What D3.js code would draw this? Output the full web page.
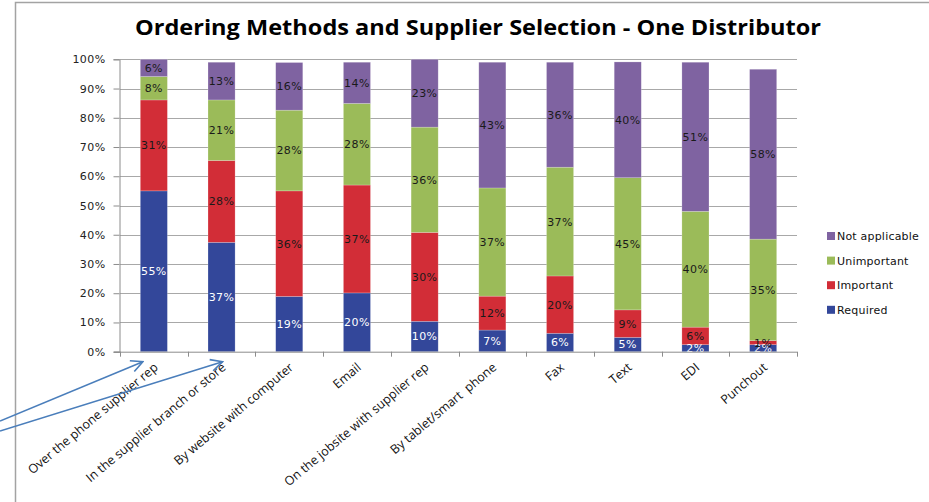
<!DOCTYPE html>
<html>
<head>
<meta charset="utf-8">
<script src="https://cdn.jsdelivr.net/npm/d3@7"></script>
<style>
  html, body { margin: 0; padding: 0; background: #fff; }
  svg { display: block; }
</style>
</head>
<body>
<svg id="chart" width="929" height="502"></svg>
<script>
const title = "Ordering Methods and Supplier Selection - One Distributor";
const categories = [
  "Over the phone supplier rep",
  "In the supplier branch or store",
  "By website with computer",
  "Email",
  "On the jobsite with supplier rep",
  "By tablet/smart  phone",
  "Fax",
  "Text",
  "EDI",
  "Punchout"
];
const required      = [55.0, 37.4, 18.9, 20.1, 10.4,  7.4,  6.3,  4.9,  2.4,  2.4];
const important     = [31.1, 28.0, 36.1, 36.9, 30.4, 11.6, 19.6,  9.4,  6.0,  1.4];
const unimportant   = [ 8.0, 20.7, 27.6, 27.9, 36.0, 37.0, 37.2, 45.2, 39.6, 34.7];
const notApplicable = [ 5.9, 12.9, 16.3, 14.1, 23.2, 43.0, 35.9, 39.6, 51.0, 58.1];
const seriesNames = ["Required", "Important", "Unimportant", "Not applicable"];
const yTicks = [0, 10, 20, 30, 40, 50, 60, 70, 80, 90, 100];
const arrowTargets = [0, 1]; // categories the annotation arrows point at

const colors = {
  "Required": "#33479a",
  "Important": "#d22d37",
  "Unimportant": "#9bbb59",
  "Not applicable": "#7f63a1"
};

const svg = d3.select("#chart");
const W = 929, H = 502;
const plot = { left: 120, right: 797, top: 59.3, bottom: 351.7 };

// frame
svg.append("path")
  .attr("d", `M15.5,${H} L15.5,2.5 L${W},2.5`)
  .attr("fill", "none").attr("stroke", "#a3a3a3").attr("stroke-width", 1.5);

// title
svg.append("text")
  .attr("x", 478).attr("y", 35)
  .attr("text-anchor", "middle")
  .attr("font-family", "'Open Sans', 'DejaVu Sans', sans-serif")
  .attr("font-weight", "bold")
  .attr("font-size", 21)
  .attr("textLength", 686).attr("lengthAdjust", "spacingAndGlyphs")
  .attr("fill", "#000")
  .text(title);

const x = d3.scaleBand().domain(categories)
  .range([plot.left, plot.right]).paddingInner(0.6).paddingOuter(0.3);
const y = d3.scaleLinear().domain([0, 100]).range([plot.bottom, plot.top]);

// gridlines
svg.append("g").selectAll("line").data(yTicks.filter(t => t > 0)).join("line")
  .attr("x1", plot.left).attr("x2", plot.right)
  .attr("y1", d => Math.round(y(d)) + 0.5).attr("y2", d => Math.round(y(d)) + 0.5)
  .attr("stroke", "#a8a8a8").attr("stroke-width", 1);

// y axis
const yAxis = d3.axisLeft(y).tickValues(yTicks).tickFormat(d => d + "%").tickSize(6).tickPadding(8);
const gy = svg.append("g").attr("transform", `translate(${plot.left - 0.5},0)`).call(yAxis);
gy.select(".domain").attr("stroke", "#8c8c8c");
gy.selectAll(".tick line").attr("stroke", "#8c8c8c");
gy.selectAll(".tick text")
  .attr("font-family", "'DejaVu Sans', Verdana, sans-serif")
  .attr("font-size", 11).attr("letter-spacing", 0.4).attr("fill", "#222");

// stacked data
const rows = categories.map((c, i) => ({
  category: c,
  "Required": required[i],
  "Important": important[i],
  "Unimportant": unimportant[i],
  "Not applicable": notApplicable[i]
}));
const stack = d3.stack().keys(seriesNames)(rows);

const gBars = svg.append("g");
stack.forEach(layer => {
  const g = gBars.append("g");
  g.selectAll("rect").data(layer).join("rect")
    .attr("x", d => x(d.data.category))
    .attr("width", x.bandwidth())
    .attr("y", d => y(d[1]))
    .attr("height", d => y(d[0]) - y(d[1]))
    .attr("fill", colors[layer.key])
    .attr("stroke", "rgba(255,255,255,0.35)").attr("stroke-width", 0.6);
});
stack.forEach(layer => {
  const g = gBars.append("g");
  g.selectAll("text").data(layer).join("text")
    .attr("x", d => x(d.data.category) + x.bandwidth() / 2)
    .attr("y", d => (y(d[0]) + y(d[1])) / 2)
    .attr("dy", "0.36em")
    .attr("text-anchor", "middle")
    .attr("font-family", "'DejaVu Sans', Verdana, sans-serif")
    .attr("font-size", 11).attr("letter-spacing", 0.4)
    .attr("fill", layer.key === "Required" ? "#ffffff" : "#1a1a1a")
    .text(d => Math.round(d.data[layer.key]) + "%");
});

// x axis
const boundaries = d3.range(categories.length + 1).map(i => plot.left + i * x.step());
const gx = svg.append("g");
gx.append("line").attr("x1", plot.left - 6).attr("x2", plot.right)
  .attr("y1", plot.bottom + 0.5).attr("y2", plot.bottom + 0.5)
  .attr("stroke", "#8c8c8c");
gx.selectAll("line.tk").data(boundaries).join("line").attr("class", "tk")
  .attr("x1", d => Math.round(d) + 0.5).attr("x2", d => Math.round(d) + 0.5)
  .attr("y1", plot.bottom).attr("y2", plot.bottom + 5)
  .attr("stroke", "#8c8c8c");
gx.selectAll("text").data(categories).join("text")
  .attr("transform", d => `translate(${x(d) + x.bandwidth() / 2 + 5},${plot.bottom + 17}) rotate(-40)`)
  .attr("text-anchor", "end")
  .attr("font-family", "'Open Sans', 'Liberation Sans', sans-serif")
  .attr("font-size", 12.5)
  .attr("fill", "#111")
  .style("white-space", "pre")
  .text(d => d);

// legend
const legendOrder = seriesNames.slice().reverse();
const lg = svg.append("g").selectAll("g").data(legendOrder).join("g")
  .attr("transform", (d, i) => `translate(827,${236 + i * 24.6})`);
lg.append("rect").attr("x", 0).attr("y", -4).attr("width", 8).attr("height", 8)
  .attr("fill", d => colors[d]);
lg.append("text").attr("x", 10).attr("y", 0).attr("dy", "0.36em")
  .attr("font-family", "'DejaVu Sans', Verdana, sans-serif")
  .attr("font-size", 11).attr("letter-spacing", 0.2).attr("fill", "#111")
  .text(d => d);

// annotation arrows
const defs = svg.append("defs");
defs.append("marker").attr("id", "arrowhead")
  .attr("viewBox", "0 0 12 12").attr("refX", 11).attr("refY", 6)
  .attr("markerWidth", 14).attr("markerHeight", 14)
  .attr("markerUnits", "userSpaceOnUse").attr("orient", "auto")
  .append("path").attr("d", "M1,1 L11,6 L1,11")
  .attr("fill", "none").attr("stroke", "#4a7ebb").attr("stroke-width", 1.4);
const arrowStarts = [421, 431];
svg.append("g").selectAll("line").data(arrowTargets).join("line")
  .attr("x1", 0).attr("y1", (d, i) => arrowStarts[i])
  .attr("x2", (d, i) => x(categories[d]) + x.bandwidth() / 2 + (i === 0 ? -11 : 1))
  .attr("y2", plot.bottom + 10)
  .attr("stroke", "#4a7ebb").attr("stroke-width", 1.6)
  .attr("marker-end", "url(#arrowhead)");
</script>
</body>
</html>
